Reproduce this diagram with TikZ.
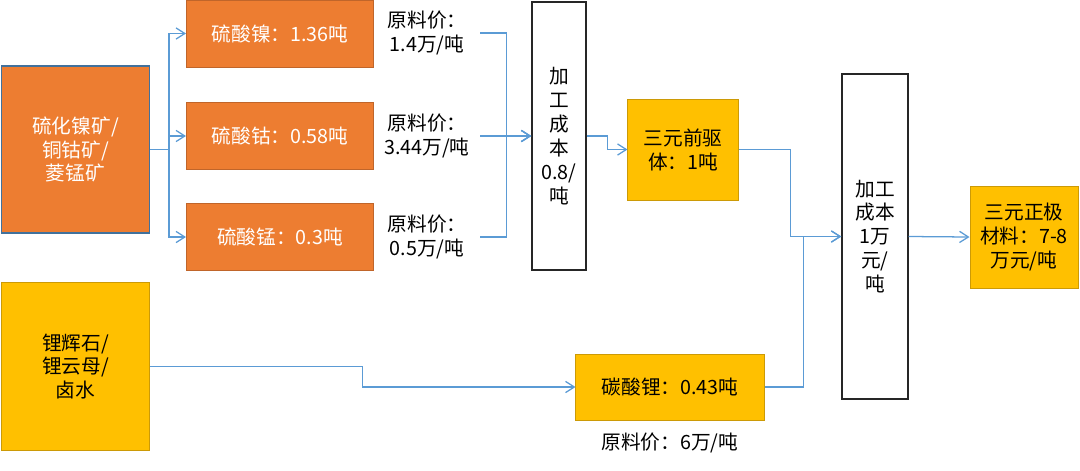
\documentclass[tikz,border=0pt]{standalone}
\usepackage{fontspec}
\setmainfont{Noto Sans CJK SC}
\usepackage{tikz}
\usetikzlibrary{positioning,arrows.meta}
\definecolor{oreorange}{HTML}{ED7D31}
\definecolor{oreedge}{HTML}{C0652A}
\definecolor{oreblue}{HTML}{41719C}
\definecolor{ligold}{HTML}{FFC000}
\definecolor{goldedge}{HTML}{CC9A06}
\definecolor{flowblue}{HTML}{5B9BD5}
\tikzset{
  box/.style={inner sep=0pt,align=center,font=\fontsize{14}{17}\selectfont},
  orebox/.style={box,fill=oreorange,draw=oreblue,line width=0.8pt,text=white},
  saltbox/.style={box,fill=oreorange,draw=oreedge,line width=0.7pt,text=white,minimum width=4.675cm,minimum height=1.675cm},
  goldbox/.style={box,fill=ligold,draw=goldedge,line width=0.7pt},
  costbox/.style={box,fill=white,draw=black!85,line width=1pt},
  price/.style={box,text width=2.65cm},
  flow/.style={->,draw=flowblue,line width=0.9pt}
}
\begin{document}
\begin{tikzpicture}[x=0.025cm,y=-0.025cm,>={Straight Barb[length=2.2mm,width=2.8mm]}]
\useasboundingbox (0,0) rectangle (1080,470);
\node[orebox,minimum width=3.7cm,minimum height=4.175cm] (ore) at (75.5,149.5) {硫化镍矿/\\铜钴矿/\\菱锰矿};
\node[saltbox] (ni) at (280,33.5) {硫酸镍：1.36吨};
\node[saltbox] (co) at (280,136) {硫酸钴：0.58吨};
\node[saltbox] (mn) at (280,237) {硫酸锰：0.3吨};
\node[price] (p1) at (427,33) {原料价：\\1.4万/吨};
\node[price] (p2) at (427,136) {原料价：\\3.44万/吨};
\node[price] (p3) at (427,237) {原料价：\\0.5万/吨};
\node[costbox,minimum width=1.35cm,minimum height=6.7cm] (cost1) at (559,136) {加\\工\\成\\本\\0.8/\\吨};
\node[goldbox,minimum width=2.75cm,minimum height=2.525cm] (pre) at (683,149.5) {三元前驱\\体：1吨};
\node[costbox,minimum width=1.65cm,minimum height=8.125cm] (cost2) at (875,236.5) {加工\\成本\\1万\\元/\\吨};
\node[goldbox,minimum width=2.7cm,minimum height=2.55cm] (cath) at (1024,237) {三元正极\\材料：7-8\\万元/吨};
\node[goldbox,minimum width=3.675cm,minimum height=4.175cm] (li) at (75.5,366.5) {锂辉石/\\锂云母/\\卤水};
\node[goldbox,minimum width=4.7cm,minimum height=1.65cm] (lc) at (670,387) {碳酸锂：0.43吨};
\node[box,below=0.3cm of lc] (p4) {原料价：6万/吨};
\draw[flow] (ore.east) -- ++(19,0) |- (ni.west);
\draw[flow] (ore.east) -- ++(19,0) |- (co.west);
\draw[flow] (ore.east) -- ++(19,0) |- (mn.west);
\draw[flow] (p1.east) -- ++(26,0) |- (cost1.west);
\draw[flow] (p3.east) -- ++(26,0) |- (cost1.west);
\draw[flow] (p2.east) -- (cost1.west);
\draw[flow] (cost1.east) -- ++(21,0) |- (pre.west);
\draw[flow] (pre.east) -- ++(52,0) |- (cost2.west);
\draw[flow] (lc.east) -- ++(39,0) |- (cost2.west);
\draw[flow] (cost2.east) -- (cath.west);
\draw[flow] (li.east) -- ++(213,0) |- (lc.west);
\end{tikzpicture}
\end{document}
